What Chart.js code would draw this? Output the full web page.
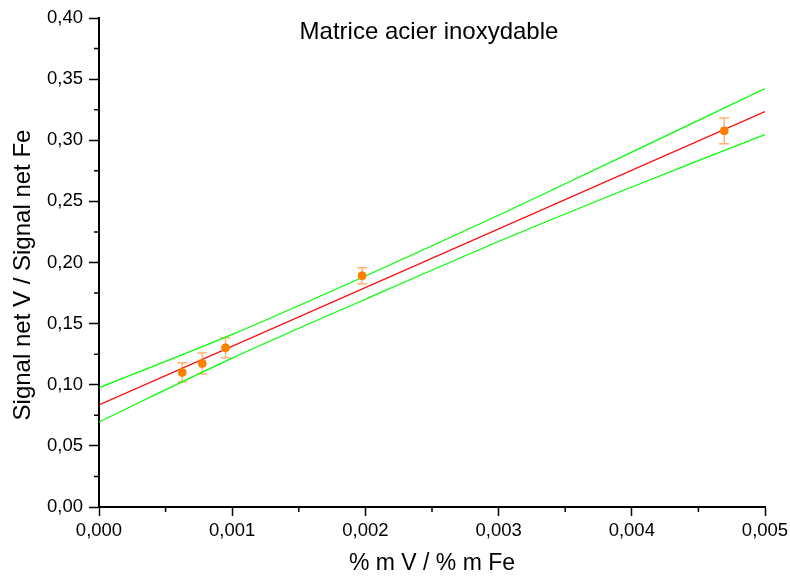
<!DOCTYPE html>
<html>
<head>
<meta charset="utf-8">
<script src="https://cdn.jsdelivr.net/npm/chart.js@4/dist/chart.umd.min.js"></script>
<style>
  html, body { margin: 0; padding: 0; background: #fff; }
  #wrap { width: 790px; height: 577px; }
</style>
</head>
<body>
<div id="wrap"><canvas id="chart"></canvas></div>
<script>
// Données
const chartTitle = "Matrice acier inoxydable";
const xTitle = "% m V / % m Fe";
const yTitle = "Signal net V / Signal net Fe";
const xVals = [0.000625, 0.000775, 0.00095, 0.001975, 0.004694];
const yVals = [0.1101, 0.1174, 0.1302, 0.1892, 0.3077];
const yErr = [0.0079, 0.0086, 0.0082, 0.0066, 0.0105];

// Droite d'étalonnage et bandes de confiance
const fitX = [0, 0.005];
const fitY = [0.0835, 0.3235];
const bandX = [0, 0.001, 0.002, 0.003, 0.004, 0.005];
const upperY = [0.0975, 0.1412, 0.1890, 0.2387, 0.2903, 0.3423];
const lowerY = [0.0696, 0.1218, 0.1700, 0.2172, 0.2618, 0.3047];

// Graduations
const xTicks = [0, 0.001, 0.002, 0.003, 0.004, 0.005];
const xMinor = [0.0005, 0.0015, 0.0025, 0.0035, 0.0045];
const yTicks = [0, 0.05, 0.10, 0.15, 0.20, 0.25, 0.30, 0.35, 0.40];
const yMinor = [0.025, 0.075, 0.125, 0.175, 0.225, 0.275, 0.325, 0.375];

const FONT = "'Liberation Sans', Arial, sans-serif";

function toPts(xs, ys) {
  return xs.map((x, i) => ({ x: x, y: ys[i] }));
}

// Barres d'erreur (sous les points)
const errorBars = {
  id: "errorBars",
  beforeDatasetsDraw(chart) {
    const { ctx, scales } = chart;
    ctx.save();
    ctx.strokeStyle = "rgba(255,140,40,0.65)";
    ctx.lineWidth = 1.5;
    xVals.forEach((x, i) => {
      const px = scales.x.getPixelForValue(x);
      const top = scales.y.getPixelForValue(yVals[i] + yErr[i]);
      const bot = scales.y.getPixelForValue(yVals[i] - yErr[i]);
      ctx.beginPath();
      ctx.moveTo(px, top); ctx.lineTo(px, bot);
      ctx.moveTo(px - 5, top); ctx.lineTo(px + 5, top);
      ctx.moveTo(px - 5, bot); ctx.lineTo(px + 5, bot);
      ctx.stroke();
    });
    ctx.restore();
  }
};

// Petites graduations + titres
const extras = {
  id: "extras",
  afterDraw(chart) {
    const { ctx, scales, chartArea } = chart;
    ctx.save();
    ctx.strokeStyle = "#000";
    ctx.lineWidth = 1.5;
    ctx.beginPath();
    xMinor.forEach(v => {
      const px = scales.x.getPixelForValue(v);
      ctx.moveTo(px, chartArea.bottom);
      ctx.lineTo(px, chartArea.bottom + 5);
    });
    yMinor.forEach(v => {
      const py = scales.y.getPixelForValue(v);
      ctx.moveTo(chartArea.left, py);
      ctx.lineTo(chartArea.left - 5, py);
    });
    ctx.stroke();

    ctx.fillStyle = "#000";
    ctx.textAlign = "center";
    ctx.textBaseline = "middle";
    ctx.font = "24px " + FONT;
    ctx.fillText(chartTitle, 429, 32);

    // titre de l'axe Y
    ctx.translate(23, 275);
    ctx.rotate(-Math.PI / 2);
    ctx.fillText(yTitle, 0, 0);
    ctx.restore();
  }
};

const ctx = document.getElementById("chart").getContext("2d");
const chart = new Chart(ctx, {
  type: "scatter",
  data: {
    datasets: [
      {
        label: "points",
        data: toPts(xVals, yVals),
        backgroundColor: "#ff8000",
        borderColor: "#ff8000",
        pointRadius: 4,
        pointHoverRadius: 4,
        order: 0
      },
      {
        label: "fit",
        type: "line",
        data: toPts(fitX, fitY),
        borderColor: "#ff0000",
        borderWidth: 1.2,
        pointRadius: 0,
        fill: false,
        order: 1
      },
      {
        label: "upper",
        type: "line",
        data: toPts(bandX, upperY),
        borderColor: "#00ff00",
        borderWidth: 1.2,
        pointRadius: 0,
        tension: 0.3,
        fill: false,
        order: 2
      },
      {
        label: "lower",
        type: "line",
        data: toPts(bandX, lowerY),
        borderColor: "#00ff00",
        borderWidth: 1.2,
        pointRadius: 0,
        tension: 0.3,
        fill: false,
        order: 2
      }
    ]
  },
  options: {
    responsive: true,
    maintainAspectRatio: false,
    animation: false,
    layout: { padding: { top: 18, right: 25, left: 0, bottom: 0 } },
    plugins: {
      legend: { display: false },
      tooltip: { enabled: false }
    },
    scales: {
      x: {
        type: "linear",
        min: 0,
        max: 0.005,
        afterFit: s => { s.height = 70; s.paddingLeft = 0; s.paddingRight = 0; },
        afterBuildTicks: s => { s.ticks = xTicks.map(v => ({ value: v })); },
        border: { color: "#000", width: 2 },
        grid: { drawOnChartArea: false, tickLength: 9, tickColor: "#000", tickWidth: 1.5 },
        ticks: {
          color: "#000",
          font: { family: FONT, size: 18.5 },
          padding: 4,
          maxRotation: 0,
          autoSkip: false,
          callback: v => v.toFixed(3).replace(".", ",")
        },
        title: {
          display: true,
          text: xTitle,
          color: "#000",
          font: { family: FONT, size: 23 },
          padding: { top: 0, bottom: 0 }
        }
      },
      y: {
        type: "linear",
        min: 0,
        max: 0.4,
        afterFit: s => { s.width = 99; s.paddingTop = 0; s.paddingBottom = 0; },
        afterBuildTicks: s => { s.ticks = yTicks.map(v => ({ value: v })); },
        border: { color: "#000", width: 2 },
        grid: { drawOnChartArea: false, tickLength: 10, tickColor: "#000", tickWidth: 1.5 },
        ticks: {
          color: "#000",
          font: { family: FONT, size: 18.5 },
          padding: 6,
          autoSkip: false,
          callback: v => v.toFixed(2).replace(".", ",")
        },
        title: { display: false }
      }
    }
  },
  plugins: [errorBars, extras]
});
</script>
</body>
</html>
